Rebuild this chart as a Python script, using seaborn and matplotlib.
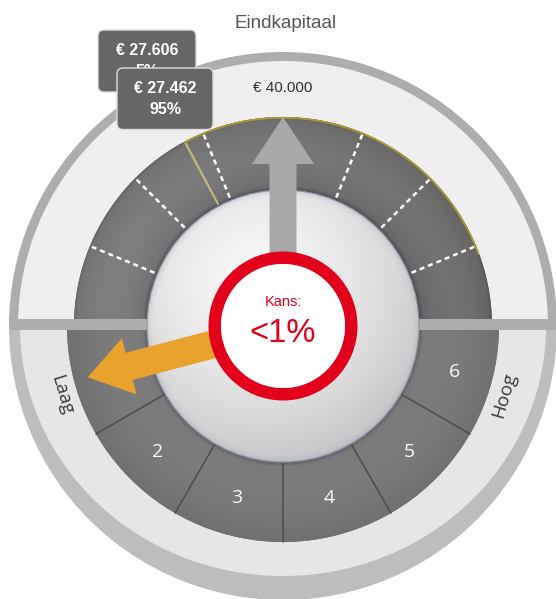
import numpy as np
import pandas as pd
import matplotlib
matplotlib.use("Agg")
import matplotlib.pyplot as plt
import seaborn as sns
from matplotlib.patches import Wedge, Circle, Rectangle, Polygon, FancyBboxPatch

# ---------------- data ----------------
title = "Eindkapitaal"
scale_max = 80000
target_value = 40000
target_label = "€ 40.000"
range_values = [27462, 71000]
tooltip_values = [27606, 27462]
tooltip_labels = ["€ 27.606", "€ 27.462"]
tooltip_pcts = ["5%", "95%"]
upper_ticks = [10000, 20000, 30000, 50000, 60000, 70000]
risk_labels = ["1", "2", "3", "4", "5", "6"]
risk_value = 1
side_labels = ["Laag", "Hoog"]
chance_title = "Kans:"
chance_value = "<1%"

# ---------------- setup ----------------
sns.set_theme(style="white")
plt.rcParams['font.family'] = ['Liberation Sans', 'DejaVu Sans']

W, H = 556, 599
fig = plt.figure(figsize=(W / 100, H / 100), dpi=100)
ax = fig.add_axes([0, 0, 1, 1])
ax.set_xlim(0, W)
ax.set_ylim(0, H)
ax.axis('off')

CX, CY = 283, H - 326
R_RIM = 274
R_FACE = 265
R_UP = 209
R_LOW = 216
R_IN = 136


def v2a(v):
    return 180.0 - v / scale_max * 180.0


def pol(r, a):
    t = np.deg2rad(a)
    return CX + r * np.cos(t), CY + r * np.sin(t)


yy, xx = np.mgrid[0:H, 0:W] + 0.5
rr = np.hypot(xx - CX, yy - CY)


def grad(rgb, clip, z):
    im = ax.imshow(rgb, extent=(0, W, 0, H), origin='lower', zorder=z,
                   interpolation='bilinear', aspect='auto')
    im.set_clip_path(clip)


# outer rim
ax.add_patch(Wedge((CX, CY), R_RIM, 0, 180, fc='#adadad', ec='none', zorder=1))
ax.add_patch(Wedge((CX, CY), R_RIM, 180, 360, fc='#bdbdbd', ec='none', zorder=1))
# faces
ax.add_patch(Wedge((CX, CY), R_FACE, 0, 180, fc='#efefef', ec='none', zorder=2))
t = np.deg2rad(np.linspace(180, 360, 200))
low_face = np.column_stack([CX + 263 * np.cos(t), CY + 250 * np.sin(t)])
ax.add_patch(Polygon(low_face, closed=True, fc='#e6e6e6', ec='none', zorder=2))

# dark bands
up_band = Wedge((CX, CY), R_UP, 0, 180, width=R_UP - R_IN, fc='#6e6e6e', ec='none', zorder=3)
ax.add_patch(up_band)
s = np.clip((rr - R_IN) / (R_UP - R_IN), 0, 1)
val = 0.42 + 0.05 * np.sin(np.pi * s) + 0.03 * np.clip((CX - xx) / 200, -1, 1)
val -= 0.10 * np.clip(1 - s / 0.07, 0, 1)
val -= 0.06 * np.clip((s - 0.96) / 0.04, 0, 1)
rgb = np.dstack([val, val, val + 0.01 * (1 - s)])
grad(np.clip(rgb, 0, 1), up_band, 3.1)

low_band = Wedge((CX, CY), R_LOW, 180, 360, width=R_LOW - R_IN, fc='#737373', ec='none', zorder=3)
ax.add_patch(low_band)
s2 = np.clip((rr - R_IN) / (R_LOW - R_IN), 0, 1)
val2 = 0.44 + 0.04 * (1 - s2) + 0.02 * np.sin(np.pi * s2)
val2 -= 0.10 * np.clip(1 - s2 / 0.06, 0, 1)
rgb2 = np.dstack([val2, val2, val2 + 0.02 * np.clip(1 - s2 / 0.06, 0, 1)])
grad(np.clip(rgb2, 0, 1), low_band, 3.1)

# yellow range arc
arc_a = np.linspace(v2a(range_values[1]), v2a(range_values[0]), 120)
ax_, ay_ = pol(R_UP - 0.8, arc_a)
arc_df = pd.DataFrame({'x': ax_, 'y': ay_, 'id': 0})
sns.lineplot(data=arc_df, x='x', y='y', units='id', estimator=None, sort=False,
             color='#a89a30', lw=1.3, ax=ax, zorder=4.2, legend=False)

# yellow value lines
rows = []
for i, v in enumerate(tooltip_values):
    for r in (R_IN + 2, R_UP - 1):
        x, y = pol(r, v2a(v))
        rows.append({'x': x, 'y': y, 'id': i})
sns.lineplot(data=pd.DataFrame(rows), x='x', y='y', units='id', estimator=None, sort=False,
             color='#c9c07a', lw=0.8, ax=ax, zorder=4.1, legend=False)

# dashed ticks in the upper band
rows = []
for i, v in enumerate(upper_ticks):
    for r in (R_IN + 3, R_UP - 1):
        x, y = pol(r, v2a(v))
        rows.append({'x': x, 'y': y, 'id': i})
sns.lineplot(data=pd.DataFrame(rows), x='x', y='y', units='id', estimator=None, sort=False,
             color='white', lw=1.8, linestyle=(0, (2, 1.6)), ax=ax, zorder=4, legend=False)

# separators in the lower band
n = len(risk_labels)
step = 180.0 / n
rows = []
for i in range(1, n):
    for r in (R_IN, R_LOW):
        x, y = pol(r, 180 + i * step)
        rows.append({'x': x, 'y': y, 'id': i})
sns.lineplot(data=pd.DataFrame(rows), x='x', y='y', units='id', estimator=None, sort=False,
             color='#4c4c4c', lw=1.1, ax=ax, zorder=4, legend=False)

for i, lab in enumerate(risk_labels):
    x, y = pol(178, 180 + (i + 0.5) * step)
    ax.text(x, y, lab, ha='center', va='center', color='#fafafa', fontsize=14,
            family=['Open Sans', 'DejaVu Sans'], zorder=4.5)

# horizontal bar
ax.add_patch(Rectangle((CX - R_RIM + 1, H - 329.5), 2 * R_RIM, 11, fc='#adadad', ec='none', zorder=5))

# inner sphere
sphere = Circle((CX, CY), R_IN, fc='#dddddd', ec='none', zorder=6)
ax.add_patch(sphere)
lx, ly = CX - 25, CY + 45
d = np.clip(np.hypot(xx - lx, yy - ly) / 220, 0, 1)
c1 = np.array([0.975, 0.975, 0.975])
c2 = np.array([0.72, 0.72, 0.73])
rgb3 = c1 + (c2 - c1) * (d[..., None] ** 1.5)
e = np.clip((rr / R_IN - 0.94) / 0.06, 0, 1) ** 2
edge_c = np.array([0.60, 0.62, 0.68])
rgb3 = rgb3 + (edge_c - rgb3) * (0.35 * e[..., None])
grad(np.clip(rgb3, 0, 1), sphere, 6.1)
ax.add_patch(Circle((CX, CY), R_IN, fc='none', ec='#8b91a2', lw=0.8, zorder=6.2))


def arrow(angle, length, shw, hhw, hl, color, z):
    u = np.array([np.cos(np.deg2rad(angle)), np.sin(np.deg2rad(angle))])
    nrm = np.array([-u[1], u[0]])
    c = np.array([CX, CY])
    b = c + u * (length - hl)
    pts = [c + nrm * shw, b + nrm * shw, b + nrm * hhw, c + u * length,
           b - nrm * hhw, b - nrm * shw, c - nrm * shw]
    ax.add_patch(Polygon(pts, closed=True, fc=color, ec='none', zorder=z))


arrow(v2a(target_value), R_UP, 13.5, 31, 47, '#a9a9a9', 7)
arrow(180 + (risk_value - 0.5) * step - 0.3, 202, 14, 29, 43, '#e9a22e', 7.1)

# red ring
ax.add_patch(Wedge((CX, CY), 74.5, 0, 360, width=12.5, fc='#e2001a', ec='none', zorder=8))
ax.add_patch(Circle((CX, CY), 62, fc='white', ec='none', zorder=8))
ax.text(CX, H - 302, chance_title, ha='center', va='center', color='#e2001a', fontsize=10.5, zorder=9)
ax.text(CX, H - 334, chance_value, ha='center', va='center', color='#e2001a', fontsize=23.5, zorder=9)

# texts
ax.text(286, H - 24, title, ha='center', va='center', color='#555555', fontsize=13.5, zorder=9)
ax.text(CX, H - 87.5, target_label, ha='center', va='center', color='#333333', fontsize=11, zorder=9)

for lab, a, rot in zip(side_labels, [197.3, 342.7], [-73.5, 73.5]):
    x, y = pol(232, a)
    ax.text(x, y, lab, ha='center', va='center', rotation=rot, rotation_mode='anchor',
            color='#3c3c3c', fontsize=13.5, family=['Open Sans', 'DejaVu Sans'], zorder=9)

# tooltips
boxes = [(98, H - 92, 98, 62), (117, H - 129.5, 96, 61.5)]
for k, ((x0, y0, w, h), lab, pct) in enumerate(zip(boxes, tooltip_labels, tooltip_pcts)):
    z = 10 + k
    ax.add_patch(FancyBboxPatch((x0, y0), w, h, boxstyle="round,pad=0,rounding_size=6",
                                fc='#666666', ec='#dcdcdc', lw=1, zorder=z))
    ax.text(x0 + w / 2, y0 + h - 20.5, lab, ha='center', va='center', color='white',
            fontsize=11.5, fontweight='bold', zorder=z + 0.5)
    ax.text(x0 + w / 2, y0 + h - 41.5, pct, ha='center', va='center', color='white',
            fontsize=11.5, fontweight='bold', zorder=z + 0.5)

ax.set_xlim(0, W)
ax.set_ylim(0, H)
fig.savefig("out.png", dpi=100, facecolor='white')
